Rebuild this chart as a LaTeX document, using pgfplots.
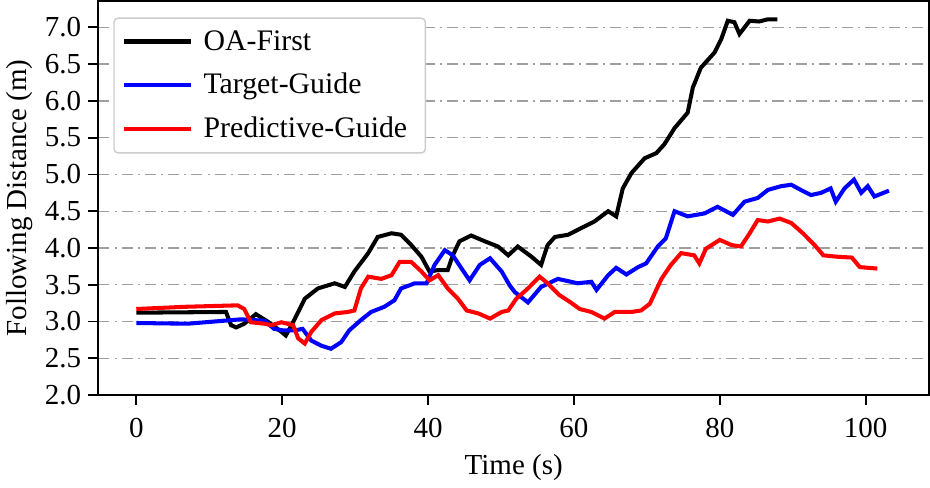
\documentclass[border=0pt]{standalone}
\usepackage{pgfplots}
\pgfplotsset{compat=1.18}
\usepackage{fontspec}
\setmainfont{Liberation Serif}

\begin{document}
\begin{tikzpicture}
\begin{axis}[
    scale only axis,
    width=411bp, height=195bp,
    xmin=-5.2, xmax=108.7,
    ymin=2.0, ymax=7.36,
    xtick={0,20,40,60,80,100},
    ytick={2.0,2.5,3.0,3.5,4.0,4.5,5.0,5.5,6.0,6.5,7.0},
    yticklabel style={/pgf/number format/.cd, fixed, fixed zerofill, precision=1},
    /pgf/number format/assume math mode=true,
    tick align=outside, tick pos=left,
    major tick length=5bp,
    every tick/.style={black, line width=0.9bp},
    axis line style={line width=0.9bp},
    ymajorgrids=true,
    grid style={line width=0.7bp, draw=gray!75, dash pattern=on 5.5bp off 2.5bp on 1bp off 2.5bp},
    xlabel={Time (s)},
    ylabel={Following Distance (m)},
    label style={font=\Large},
    ticklabel style={font=\Large},
    xticklabel style={yshift=-3bp},
    xlabel style={yshift=-1.5bp},
    ylabel style={yshift=-1bp},
    legend cell align=left,
    legend style={at={(0.018,0.958)}, anchor=north west, font=\fontsize{14.8}{18}\selectfont,
        draw=gray!40, line width=0.7bp, rounded corners=2bp,
        inner xsep=4bp, inner ysep=4bp, row sep=6bp,
        nodes={inner xsep=5bp},
        /tikz/every even column/.append style={column sep=4bp}},
    legend image code/.code={\draw[#1, line width=2.3bp] (0bp,0bp) -- (33bp,0bp);},
]
% OA-First
\addplot[black, line width=2bp] coordinates {
(0,3.12) (12.3,3.13) (13.0,2.95) (13.7,2.92) (14.8,2.97) (16.4,3.10) (18.0,3.00)
(19.9,2.86) (20.5,2.81) (21.5,2.99) (23.1,3.31) (24.9,3.45) (27.2,3.52) (28.6,3.47)
(29.9,3.68) (31.8,3.93) (33.1,4.15) (35.0,4.20) (36.3,4.18) (37.7,4.04) (39.1,3.88)
(40.2,3.68) (41.4,3.70) (42.7,3.70) (43.4,3.90) (44.3,4.09) (45.9,4.17) (47.8,4.09)
(49.6,4.02) (51.0,3.90) (52.3,4.02) (54.2,3.88) (55.5,3.77) (56.4,4.04) (57.4,4.15)
(59.2,4.18) (61.0,4.27) (62.8,4.36) (64.7,4.50) (65.8,4.43) (66.7,4.81) (67.9,5.02)
(69.7,5.22) (71.3,5.29) (72.4,5.41) (73.8,5.63) (75.6,5.84) (76.3,6.18) (77.4,6.45)
(79.3,6.66) (80.2,6.84) (81.1,7.09) (82.0,7.07) (82.7,6.91) (84.1,7.09) (85.4,7.08)
(86.6,7.11) (87.9,7.11)
};
\addlegendentry{OA-First}
% Target-Guide
\addplot[blue, line width=2bp] coordinates {
(0,2.98) (7.0,2.97) (14.4,3.03) (17.6,3.01) (18.9,2.90) (20.1,2.88) (21.7,2.88)
(22.8,2.90) (24.0,2.74) (25.4,2.67) (26.7,2.63) (28.1,2.72) (29.2,2.88) (30.8,3.02)
(32.2,3.13) (34.0,3.20) (35.4,3.29) (36.3,3.45) (38.2,3.52) (39.8,3.52) (40.9,3.77)
(42.3,3.97) (43.4,3.90) (44.6,3.72) (45.7,3.56) (47.1,3.77) (48.5,3.86) (50.1,3.68)
(51.2,3.49) (51.9,3.40) (53.7,3.26) (55.5,3.47) (57.8,3.58) (60.5,3.52) (62.4,3.54)
(63.1,3.43) (64.7,3.63) (65.8,3.73) (67.2,3.64) (68.8,3.74) (69.9,3.79) (71.5,4.02)
(72.6,4.13) (73.8,4.50) (75.6,4.43) (77.9,4.47) (79.7,4.56) (81.8,4.45) (83.4,4.63)
(85.2,4.68) (86.6,4.79) (88.4,4.84) (89.8,4.86) (91.1,4.79) (92.5,4.72) (93.9,4.75)
(95.2,4.81) (95.9,4.63) (97.1,4.81) (98.4,4.93) (99.4,4.75) (100.3,4.84) (101.2,4.70)
(103.2,4.78)
};
\addlegendentry{Target-Guide}
% Predictive-Guide
\addplot[red, line width=2bp] coordinates {
(0,3.17) (6.6,3.20) (13.9,3.22) (14.8,3.17) (15.7,2.99) (17.6,2.97) (18.5,2.95)
(19.9,2.99) (21.5,2.95) (22.2,2.77) (23.1,2.70) (24.0,2.86) (25.4,3.02) (27.2,3.11)
(29.0,3.13) (29.9,3.15) (30.8,3.45) (31.8,3.61) (33.6,3.58) (35.0,3.63) (36.1,3.81)
(37.7,3.81) (39.1,3.68) (40.2,3.56) (41.4,3.63) (42.7,3.45) (44.1,3.31) (45.3,3.15)
(46.9,3.11) (48.5,3.04) (50.1,3.13) (51.0,3.15) (52.1,3.31) (53.7,3.45) (55.3,3.61)
(56.4,3.52) (58.0,3.36) (59.4,3.27) (60.8,3.17) (62.4,3.13) (64.2,3.04) (65.6,3.13)
(67.9,3.13) (69.2,3.15) (70.4,3.24) (72.0,3.58) (73.3,3.77) (74.7,3.93) (76.5,3.90)
(77.2,3.79) (78.1,3.99) (80.0,4.11) (81.6,4.04) (82.9,4.02) (84.1,4.20) (85.2,4.38)
(86.6,4.36) (88.2,4.40) (89.8,4.34) (91.4,4.20) (93.0,4.04) (94.2,3.90) (96.2,3.88)
(98.1,3.87) (99.2,3.74) (101.6,3.72)
};
\addlegendentry{Predictive-Guide}
\end{axis}
\end{tikzpicture}
\end{document}
